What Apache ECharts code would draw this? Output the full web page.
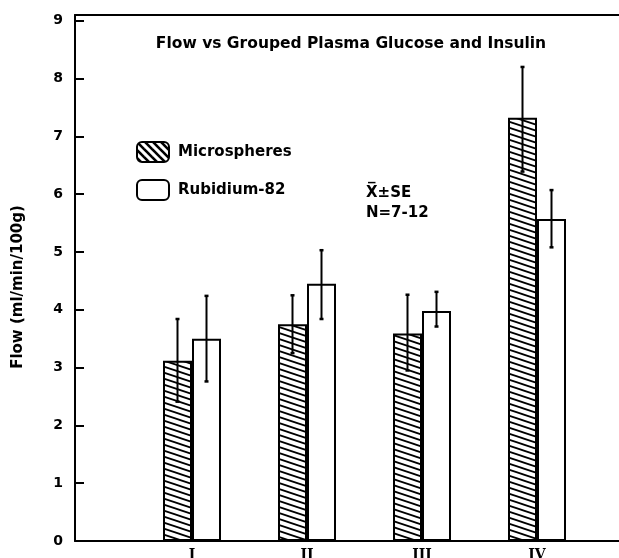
<!DOCTYPE html>
<html>
<head>
<meta charset="utf-8">
<script src="https://cdn.jsdelivr.net/npm/echarts@6/dist/echarts.min.js"></script>
<style>
html,body{margin:0;padding:0;background:#fff;}
#chart{width:619px;height:558px;}
</style>
</head>
<body>
<div id="chart"></div>
<script>
const categories = ['I', 'II', 'III', 'IV'];
const seriesNames = ['Microspheres', 'Rubidium-82'];
const microspheres = [3.12, 3.75, 3.59, 7.32];
const microLow = [2.41, 3.25, 2.95, 6.39];
const microHigh = [3.84, 4.25, 4.26, 8.20];
const rubidium = [3.50, 4.45, 3.98, 5.57];
const rbLow = [2.76, 3.84, 3.71, 5.08];
const rbHigh = [4.24, 5.03, 4.31, 6.07];
const yMin = 0, yMax = 9, yStep = 1;
const titleText = 'Flow vs Grouped Plasma Glucose and Insulin';
const yName = 'Flow (ml/min/100g)';
const noteLines = ['X\u0305\u00B1SE', 'N=7-12'];

function makeHatch(w, h, lw) {
  const c = document.createElement('canvas');
  c.width = w; c.height = h;
  const ctx = c.getContext('2d');
  ctx.fillStyle = '#fff';
  ctx.fillRect(0, 0, w, h);
  ctx.strokeStyle = '#000';
  ctx.lineWidth = lw;
  for (let k = -2; k <= 2; k++) {
    ctx.beginPath();
    ctx.moveTo(-w, k * h - h);
    ctx.lineTo(2 * w, k * h + 2 * h);
    ctx.stroke();
  }
  return c;
}
const barHatch = makeHatch(18, 6, 1.8);
const legendHatch = makeHatch(8, 8, 2.6);

const FONT = 'DejaVu Sans';
const BAR_W = 29;

function errRender(offset) {
  return function (params, api) {
    const i = api.value(0);
    const lo = api.coord([i, api.value(1)]);
    const hi = api.coord([i, api.value(2)]);
    const x = lo[0] + offset;
    return {
      type: 'group',
      children: [
        { type: 'line', shape: { x1: x, y1: lo[1], x2: x, y2: hi[1] }, style: { stroke: '#000', lineWidth: 2 } },
        { type: 'line', shape: { x1: x - 2, y1: lo[1], x2: x + 2, y2: lo[1] }, style: { stroke: '#000', lineWidth: 2.5 } },
        { type: 'line', shape: { x1: x - 2, y1: hi[1], x2: x + 2, y2: hi[1] }, style: { stroke: '#000', lineWidth: 2.5 } }
      ]
    };
  };
}

const chart = echarts.init(document.getElementById('chart'), null, { renderer: 'canvas' });
chart.setOption({
  animation: false,
  backgroundColor: '#fff',
  grid: [
    { left: 75, right: 0, top: 15, bottom: 17, containLabel: false, outerBoundsMode: 'none' },
    { left: 134.5, right: 24.5, top: 20.7, bottom: 17, containLabel: false, outerBoundsMode: 'none' }
  ],
  legend: {
    orient: 'vertical',
    left: 131, top: 136,
    itemWidth: 32, itemHeight: 20, itemGap: 16,
    icon: 'roundRect',
    textStyle: { fontFamily: FONT, fontWeight: 'bold', fontSize: 15, color: '#000', padding: [0, 0, 0, 4] },
    data: [
      { name: seriesNames[0], itemStyle: { color: { image: legendHatch, repeat: 'repeat' }, borderColor: '#000', borderWidth: 2 } },
      { name: seriesNames[1], itemStyle: { color: '#fff', borderColor: '#000', borderWidth: 2 } }
    ]
  },
  xAxis: [
    { gridIndex: 0, type: 'value', position: 'bottom', min: 0, max: 1,
      axisLine: { show: true, onZero: false, lineStyle: { color: '#000', width: 2 } },
      axisTick: { show: false }, axisLabel: { show: false }, splitLine: { show: false } },
    { gridIndex: 0, type: 'value', position: 'top', min: 0, max: 1,
      axisLine: { show: true, onZero: false, lineStyle: { color: '#000', width: 2 } },
      axisTick: { show: false }, axisLabel: { show: false }, splitLine: { show: false } },
    { gridIndex: 1, type: 'category', data: categories,
      axisLine: { show: false }, axisTick: { show: false },
      axisLabel: { margin: 7, fontFamily: 'DejaVu Serif', fontWeight: 'bold', fontSize: 14, color: '#000' } }
  ],
  yAxis: [
    { gridIndex: 0, type: 'value', min: 0, max: 1,
      axisLine: { show: true, onZero: false, lineStyle: { color: '#000', width: 2 } },
      axisTick: { show: false }, axisLabel: { show: false }, splitLine: { show: false } },
    { gridIndex: 1, type: 'value', min: yMin, max: yMax, interval: yStep, offset: 59.5,
      axisLine: { show: false },
      axisTick: { show: true, inside: true, length: 9, lineStyle: { color: '#000', width: 2 } },
      axisLabel: { margin: 12, fontFamily: FONT, fontWeight: 'bold', fontSize: 14, color: '#000' },
      splitLine: { show: false } }
  ],
  graphic: [
    { type: 'text', x: 351, y: 44,
      style: { text: titleText, align: 'center', verticalAlign: 'middle', font: 'bold 15.5px "DejaVu Sans"', fill: '#000' } },
    { type: 'text', x: 18, y: 287, rotation: Math.PI / 2,
      style: { text: yName, align: 'center', verticalAlign: 'middle', font: 'bold 15px "DejaVu Sans"', fill: '#000' } },
    { type: 'text', x: 366, y: 183,
      style: { text: noteLines.join('\n'), lineHeight: 20, font: 'bold 15px "DejaVu Sans"', fill: '#000' } }
  ],
  series: [
    { name: seriesNames[0], type: 'bar', xAxisIndex: 2, yAxisIndex: 1, data: microspheres,
      barWidth: BAR_W, barGap: '0%',
      itemStyle: { color: { image: barHatch, repeat: 'repeat' }, borderColor: '#000', borderWidth: 2 } },
    { name: seriesNames[1], type: 'bar', xAxisIndex: 2, yAxisIndex: 1, data: rubidium,
      barWidth: BAR_W, barGap: '0%',
      itemStyle: { color: '#fff', borderColor: '#000', borderWidth: 2 } },
    { type: 'custom', xAxisIndex: 2, yAxisIndex: 1, z: 5,
      data: categories.map((c, i) => [i, microLow[i], microHigh[i]]),
      renderItem: errRender(-BAR_W / 2) },
    { type: 'custom', xAxisIndex: 2, yAxisIndex: 1, z: 5,
      data: categories.map((c, i) => [i, rbLow[i], rbHigh[i]]),
      renderItem: errRender(BAR_W / 2) }
  ]
});
</script>
</body>
</html>
